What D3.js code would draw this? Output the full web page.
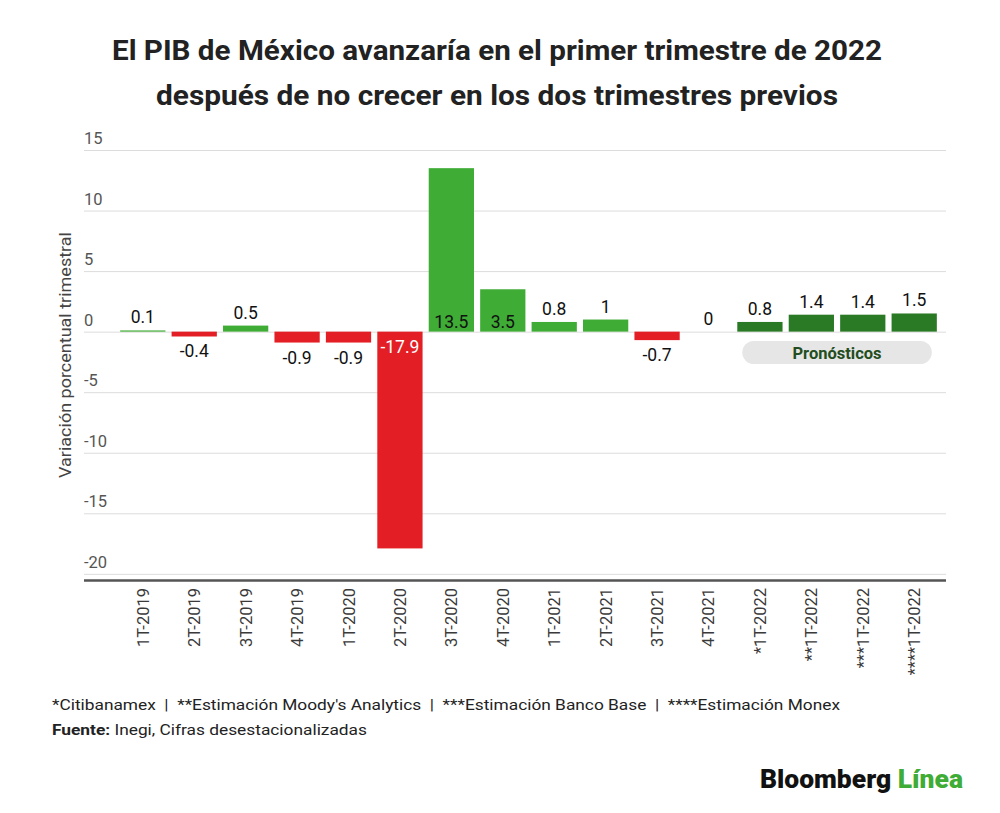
<!DOCTYPE html>
<html>
<head>
<meta charset="utf-8">
<script src="https://cdn.jsdelivr.net/npm/d3@7"></script>
<style>
  body { margin: 0; background: #fff; }
  text { font-family: Roboto, "Noto Sans", sans-serif; }
  .grid line { stroke: #dcdcdc; stroke-width: 1; }
  .grid path { display: none; }
</style>
</head>
<body>
<div id="container"></div>
<script>
const WIDTH = 1000;
const HEIGHT = 813;

// Data
const categories = ['1T-2019', '2T-2019', '3T-2019', '4T-2019', '1T-2020', '2T-2020', '3T-2020', '4T-2020',
  '1T-2021', '2T-2021', '3T-2021', '4T-2021', '*1T-2022', '**1T-2022', '***1T-2022', '****1T-2022'];
const values = [0.1, -0.4, 0.5, -0.9, -0.9, -17.9, 13.5, 3.5, 0.8, 1, -0.7, 0, 0.8, 1.4, 1.4, 1.5];
const forecast = [false, false, false, false, false, false, false, false, false, false, false, false, true, true, true, true];
const yTicks = [-20, -15, -10, -5, 0, 5, 10, 15];

const RED = '#e31e24';
const GREEN = '#3fac35';
const DARK_GREEN = '#2a7a25';
const SEP = '\u00a0 |\u00a0 ';

const svg = d3.select('#container').append('svg')
    .attr('width', WIDTH)
    .attr('height', HEIGHT);

// Title
const title = svg.append('g')
    .attr('font-weight', 700)
    .attr('font-size', 27)
    .attr('fill', '#222')
    .attr('text-anchor', 'middle');
title.append('text').attr('x', 497).attr('y', 60)
    .attr('textLength', 770).attr('lengthAdjust', 'spacingAndGlyphs')
    .text('El PIB de México avanzaría en el primer trimestre de 2022');
title.append('text').attr('x', 497).attr('y', 105)
    .attr('textLength', 682).attr('lengthAdjust', 'spacingAndGlyphs')
    .text('después de no crecer en los dos trimestres previos');

// Scales
const x = d3.scaleBand().domain(categories).range([114, 943]).padding(0.12);
const y = d3.scaleLinear().domain([-20.55, 15]).range([580.5, 150]);

// Grid
svg.append('g')
    .attr('class', 'grid')
    .attr('transform', 'translate(84,0)')
    .call(d3.axisRight(y).tickValues(yTicks).tickSize(862).tickFormat(''));

// Y tick labels (above gridlines)
svg.append('g').selectAll('text')
    .data(yTicks)
    .join('text')
    .attr('x', 84)
    .attr('y', d => y(d) - 6)
    .attr('font-size', 16.5)
    .attr('fill', '#555')
    .text(d => d);

// Y axis title
svg.append('text')
    .attr('transform', 'translate(71,355) rotate(-90)')
    .attr('text-anchor', 'middle')
    .attr('font-size', 16)
    .attr('fill', '#444')
    .attr('textLength', 246).attr('lengthAdjust', 'spacingAndGlyphs')
    .text('Variación porcentual trimestral');

// Bars
svg.append('g').selectAll('rect')
    .data(values)
    .join('rect')
    .attr('x', (d, i) => x(categories[i]))
    .attr('width', x.bandwidth())
    .attr('y', d => y(Math.max(0, d)))
    .attr('height', d => Math.abs(y(d) - y(0)))
    .attr('fill', (d, i) => d < 0 ? RED : (forecast[i] ? DARK_GREEN : GREEN));

// Value labels
svg.append('g').selectAll('text')
    .data(values)
    .join('text')
    .attr('x', (d, i) => x(categories[i]) + x.bandwidth() / 2)
    .attr('y', d => {
      if (Math.abs(d) >= 3) return d > 0 ? y(0) - 4 : y(0) + 21;
      return d >= 0 ? y(d) - 7 : y(d) + 21;
    })
    .attr('text-anchor', 'middle')
    .attr('font-size', 17.5)
    .attr('fill', d => d <= -3 ? '#fff' : '#111')
    .text(d => d);

// Bottom axis line
svg.append('line')
    .attr('x1', 84).attr('x2', 946)
    .attr('y1', y.range()[0]).attr('y2', y.range()[0])
    .attr('stroke', '#555').attr('stroke-width', 2.5);

// X labels
svg.append('g').selectAll('text')
    .data(categories)
    .join('text')
    .attr('transform', d => 'translate(' + (x(d) + x.bandwidth() / 2 + 6) + ',588) rotate(-90)')
    .attr('text-anchor', 'end')
    .attr('font-size', 16.5)
    .attr('fill', '#3a3a3a')
    .text(d => d);

// Forecast pill
const fc = categories.filter((d, i) => forecast[i]);
const pillX0 = x(fc[0]) + 5;
const pillX1 = x(fc[fc.length - 1]) + x.bandwidth() - 5;
svg.append('rect')
    .attr('x', pillX0).attr('y', 341)
    .attr('width', pillX1 - pillX0).attr('height', 23)
    .attr('rx', 11.5)
    .attr('fill', '#e6e6e6');
svg.append('text')
    .attr('x', (pillX0 + pillX1) / 2).attr('y', 358.5)
    .attr('text-anchor', 'middle')
    .attr('font-size', 16.5).attr('font-weight', 700)
    .attr('fill', '#234d20')
    .text('Pronósticos');

// Notes
svg.append('text')
    .attr('x', 52).attr('y', 710)
    .attr('font-size', 15).attr('fill', '#222')
    .attr('textLength', 788).attr('lengthAdjust', 'spacingAndGlyphs')
    .text('*Citibanamex' + SEP + "**Estimación Moody's Analytics" + SEP + '***Estimación Banco Base' + SEP + '****Estimación Monex');
const src = svg.append('text')
    .attr('x', 52).attr('y', 735)
    .attr('font-size', 15).attr('fill', '#222')
    .attr('textLength', 315).attr('lengthAdjust', 'spacingAndGlyphs');
src.append('tspan').attr('font-weight', 700).text('Fuente:');
src.append('tspan').text(' Inegi, Cifras desestacionalizadas');

// Logo
const logo = svg.append('text')
    .attr('x', 760).attr('y', 788)
    .attr('font-size', 25).attr('font-weight', 900)
    .attr('textLength', 203).attr('lengthAdjust', 'spacingAndGlyphs');
logo.append('tspan').attr('fill', '#111').text('Bloomberg ');
logo.append('tspan').attr('fill', GREEN).text('Línea');
</script>
</body>
</html>
